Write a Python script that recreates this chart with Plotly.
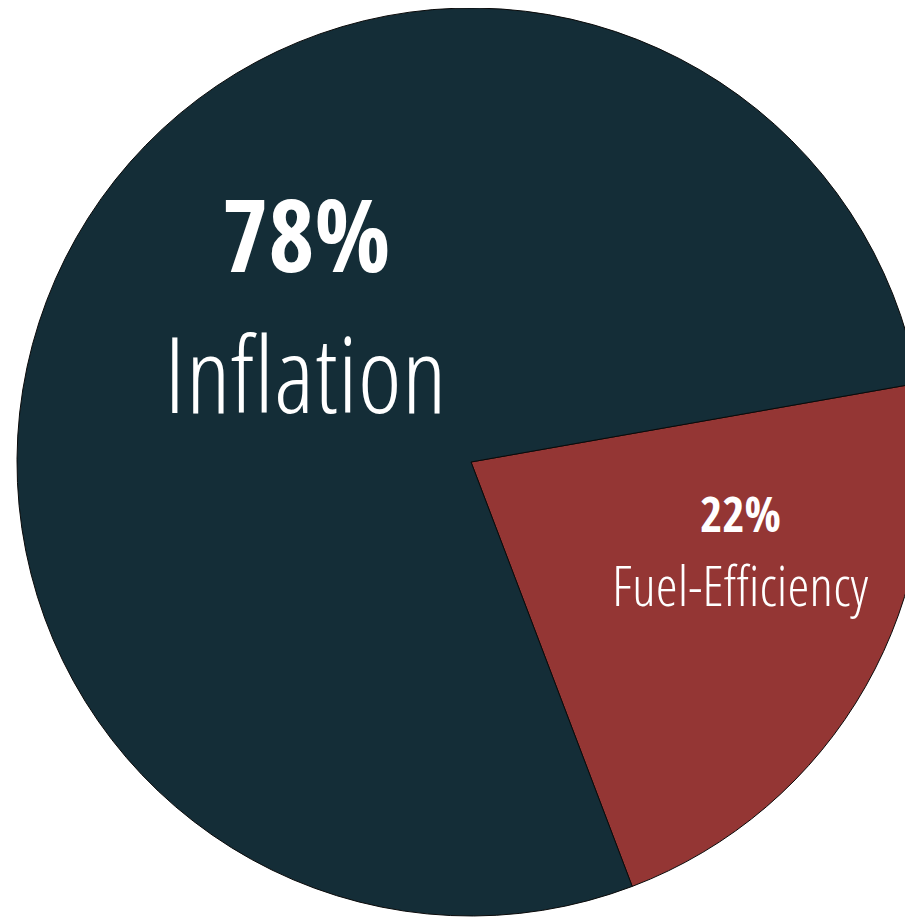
import plotly.graph_objects as go

# ---- data ----
labels = ["Fuel-Efficiency", "Inflation"]
values = [22, 78]
pct_text = ["22%", "78%"]
colors = ["#943634", "#142d37"]

# ---- layout geometry (pixels) ----
OFF = 8  # page body margin
FIG_W, FIG_H = 917, 909
M_L, M_T, M_R, M_B = 9, 0, 0, 1
PLOT_W = FIG_W - M_L - M_R
PLOT_H = FIG_H - M_T - M_B

def px(xp, yp):
    return (xp - OFF - M_L) / PLOT_W, 1 - (yp - OFF - M_T) / PLOT_H

BOLD_FONT = "Open Sans Condensed, DejaVu Sans Condensed, sans-serif"
REG_FONT = "Open Sans Condensed Light, DejaVu Sans Condensed, sans-serif"

fig = go.Figure(go.Pie(
    labels=labels,
    values=values,
    sort=False,
    direction="clockwise",
    rotation=80,
    marker=dict(colors=colors, line=dict(color="#0a0a0a", width=1)),
    textinfo="none",
    hoverinfo="label+percent",
    showlegend=False,
    domain=dict(x=[0, 1], y=[0, 1]),
))

ann_specs = [
    # (text, pixel x, pixel y, size, bold)
    (pct_text[1], 306, 233, 100, True),
    (labels[1], 305, 372, 106, False),
    (pct_text[0], 740, 513, 48, True),
    (labels[0], 740, 584, 56, False),
]
annotations = []
for text, xp, yp, size, bold in ann_specs:
    ax, ay = px(xp, yp)
    annotations.append(dict(
        text=text,
        x=ax, y=ay, xref="paper", yref="paper",
        xanchor="center", yanchor="middle",
        showarrow=False,
        font=dict(family=BOLD_FONT if bold else REG_FONT, size=size,
                  color="white", weight=700 if bold else 300),
    ))

fig.update_layout(
    width=FIG_W, height=FIG_H,
    margin=dict(l=M_L, r=M_R, t=M_T, b=M_B, pad=0),
    paper_bgcolor="white",
    plot_bgcolor="white",
    annotations=annotations,
)

fig.write_html("out.html")
